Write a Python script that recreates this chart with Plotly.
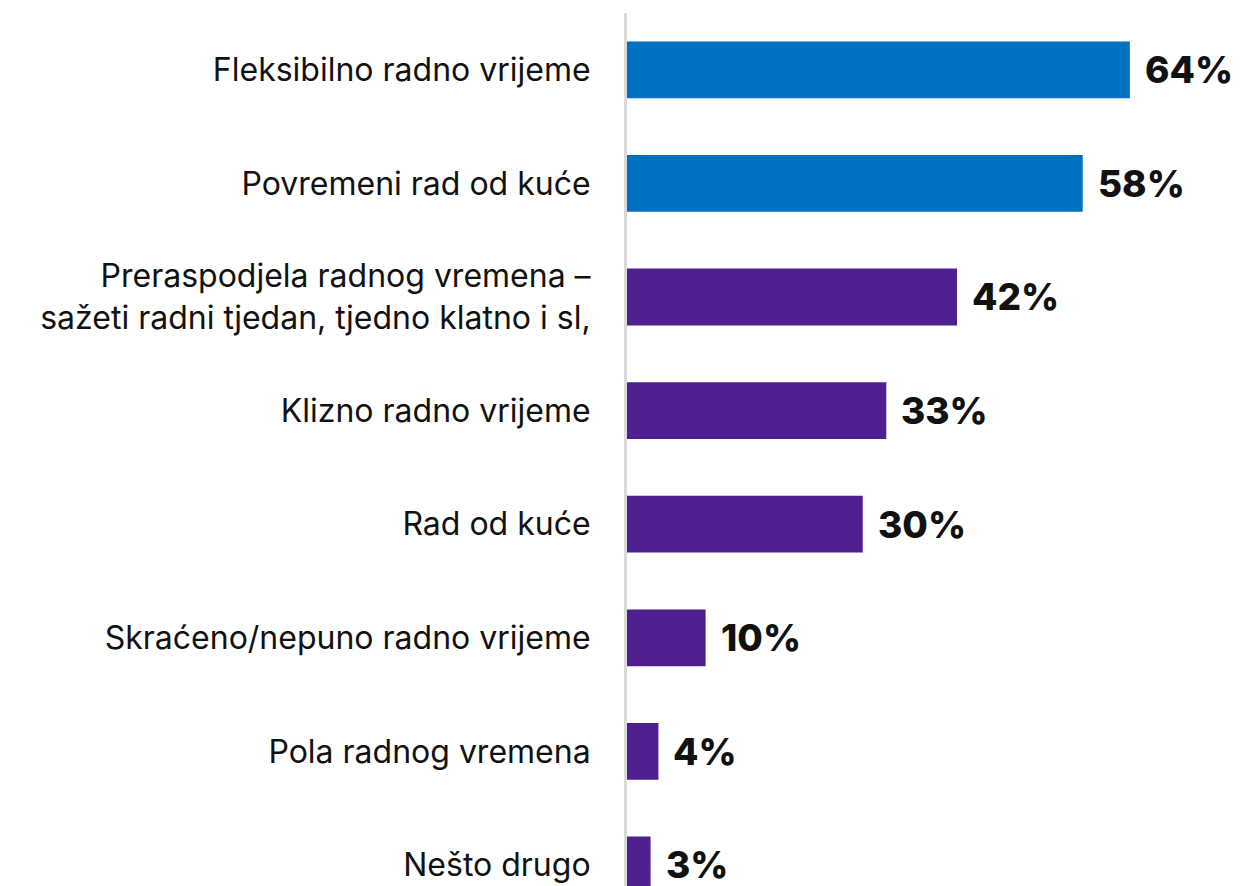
import plotly.graph_objects as go

categories = [
    "Fleksibilno radno vrijeme",
    "Povremeni rad od kuće",
    "Preraspodjela radnog vremena –<br>sažeti radni tjedan, tjedno klatno i sl,",
    "Klizno radno vrijeme",
    "Rad od kuće",
    "Skraćeno/nepuno radno vrijeme",
    "Pola radnog vremena",
    "Nešto drugo",
]
values = [64, 58, 42, 33, 30, 10, 4, 3]
bar_colors = ["#0070C0", "#0070C0"] + ["#4F1F8F"] * 6

fig = go.Figure(
    go.Bar(
        x=values,
        y=categories,
        orientation="h",
        marker=dict(color=bar_colors, line=dict(width=0)),
        width=0.5,
        hoverinfo="skip",
    )
)

# value labels to the right of each bar
for cat, val in zip(categories, values):
    fig.add_annotation(
        x=val,
        y=cat,
        text=f"{val}%",
        showarrow=False,
        xanchor="left",
        yanchor="middle",
        xshift=13,
        font=dict(family="Inter", size=37, color="#111111", weight=800),
    )

# page body has an 8px margin, so size the figure to fill the rest
fig.update_layout(
    width=1235,
    height=878,
    paper_bgcolor="white",
    plot_bgcolor="white",
    margin=dict(l=619, r=0, t=5, b=0),
    showlegend=False,
    font=dict(family="Inter", color="#111111"),
    xaxis=dict(
        range=[0, 78.4],
        visible=False,
        fixedrange=True,
    ),
    yaxis=dict(
        categoryorder="array",
        categoryarray=categories,
        range=[7.185, -0.5],
        showgrid=False,
        zeroline=False,
        showline=True,
        linecolor="#D9D9D9",
        linewidth=3,
        ticks="",
        ticklabelstandoff=27,
        tickfont=dict(family="Inter", size=32, color="#111111"),
    ),
)

fig.write_html("out.html")
